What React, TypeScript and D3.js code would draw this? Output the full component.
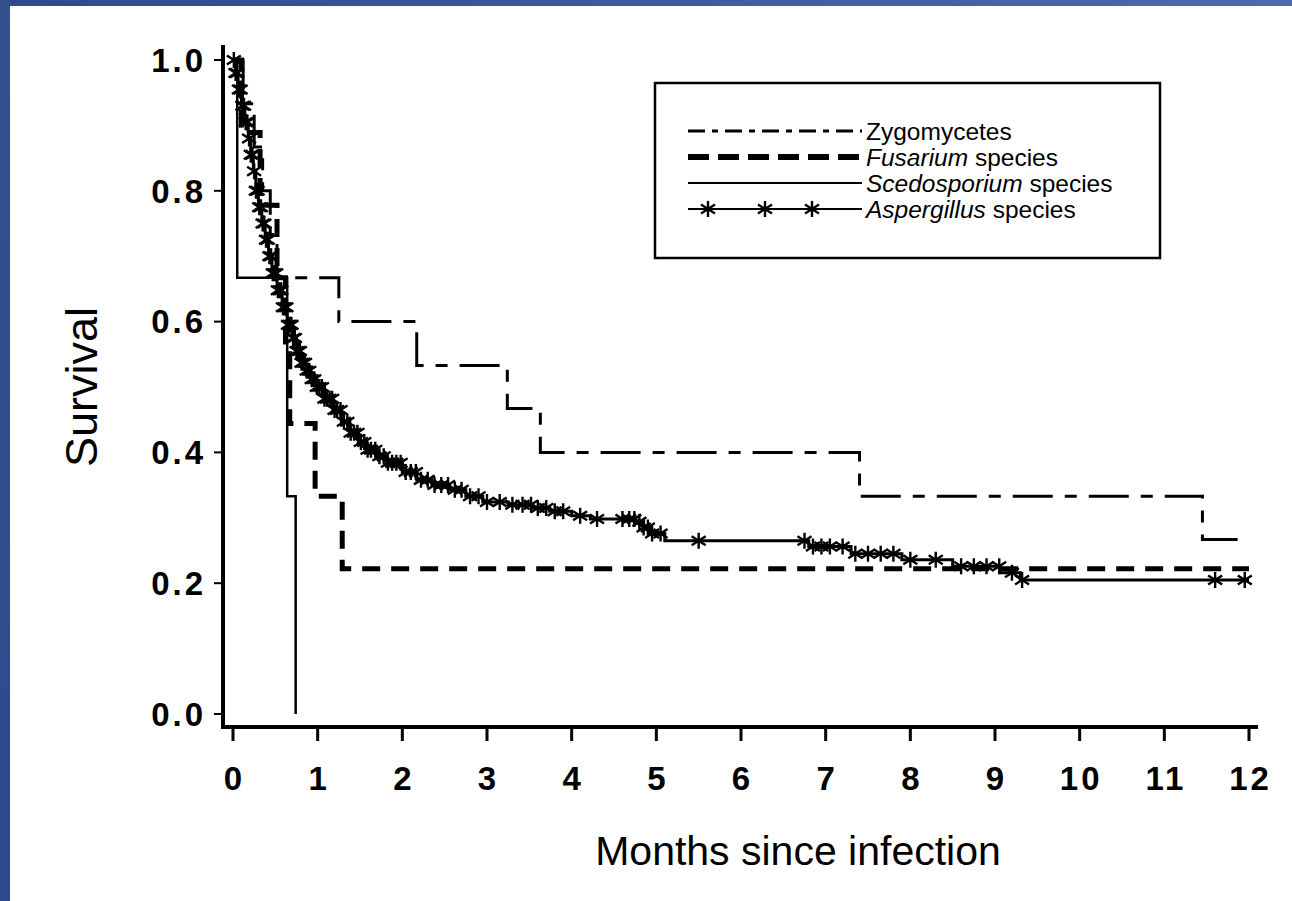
import * as d3 from 'd3'

// survival curves (months, survival)
const zygoTimes = [0, 0.12, 0.25, 0.35, 0.44, 0.52, 1.25, 2.17, 3.24, 3.63, 7.4, 11.45, 12]
const zygoSurv = [1, 0.933, 0.867, 0.8, 0.733, 0.667, 0.6, 0.533, 0.467, 0.4, 0.333, 0.267, 0.267]

const fusTimes = [0, 0.1, 0.32, 0.52, 0.62, 0.67, 0.97, 1.29, 12]
const fusSurv = [1, 0.889, 0.778, 0.667, 0.556, 0.444, 0.333, 0.222, 0.222]

const scedTimes = [0, 0.05, 0.64, 0.74]
const scedSurv = [1, 0.667, 0.333, 0]

const aspTimes = [0, 0.03, 0.06, 0.1, 0.14, 0.18, 0.21, 0.24, 0.27, 0.3, 0.34, 0.38, 0.42, 0.46, 0.52, 0.58,
  0.64, 0.7, 0.75, 0.8, 0.86, 0.92, 0.99, 1.08, 1.18, 1.28, 1.38, 1.48, 1.58, 1.7, 1.82, 2.0, 2.17, 2.35,
  2.56, 2.75, 2.95, 3.25, 3.54, 3.74, 4.0, 4.22, 4.75, 4.85, 4.93, 5.1, 6.8, 7.3, 7.9, 8.5, 9.06, 9.3, 12]
const aspSurv = [1, 0.98, 0.955, 0.93, 0.905, 0.88, 0.855, 0.83, 0.8, 0.775, 0.75, 0.725, 0.7, 0.674, 0.648, 0.622,
  0.595, 0.575, 0.555, 0.537, 0.525, 0.512, 0.5, 0.482, 0.465, 0.447, 0.43, 0.416, 0.404, 0.394, 0.384, 0.37, 0.358, 0.35,
  0.343, 0.333, 0.324, 0.32, 0.315, 0.31, 0.303, 0.298, 0.294, 0.285, 0.276, 0.265, 0.256, 0.245, 0.236, 0.226, 0.216, 0.205, 0.205]

// censored observations (stars) for Aspergillus
const aspCensored = [0.01, 0.03, 0.05, 0.07, 0.09, 0.11, 0.13, 0.15, 0.17, 0.19, 0.21, 0.23, 0.25, 0.27, 0.29,
  0.31, 0.33, 0.35, 0.37, 0.39, 0.41, 0.43, 0.45, 0.47, 0.49, 0.51, 0.53, 0.55, 0.57, 0.59, 0.61, 0.63, 0.65,
  0.67, 0.69, 0.71, 0.73, 0.75, 0.77, 0.79, 0.81, 0.83, 0.85, 0.87, 0.9, 0.93, 0.96, 0.99, 1.02, 1.05, 1.08,
  1.11, 1.14, 1.17, 1.2, 1.23, 1.27, 1.31, 1.35, 1.39, 1.43, 1.47, 1.51, 1.55, 1.59, 1.63, 1.68, 1.73, 1.78,
  1.83, 1.88, 1.93, 1.98, 2.04, 2.1, 2.16, 2.22, 2.3, 2.38, 2.46, 2.54, 2.62, 2.7, 2.8, 2.9, 3.0, 3.15, 3.3,
  3.42, 3.52, 3.6, 3.7, 3.8, 3.9, 4.1, 4.3, 4.6, 4.68, 4.74, 4.8, 4.85, 4.9, 4.95, 5.05, 5.5, 6.75, 6.85, 6.95,
  7.05, 7.2, 7.35, 7.5, 7.65, 7.8, 8.0, 8.3, 8.6, 8.75, 8.9, 9.05, 9.2, 9.32, 11.6, 11.95]

const xTicks = [0, 1, 2, 3, 4, 5, 6, 7, 8, 9, 10, 11, 12]
const yTicks = [0, 0.2, 0.4, 0.6, 0.8, 1.0]

const legendNames = ['Zygomycetes', 'Fusarium', 'Scedosporium', 'Aspergillus']
const legendSuffix = ['', ' species', ' species', ' species']

const FONT = '"Liberation Sans", Arial, Helvetica, sans-serif'

const zygoDash = '40 12 12 12'
const fusDash = '18 11'

function Star({ cx, cy }: { cx: number; cy: number }) {
  return (
    <path
      d={`M${cx},${cy - 8}L${cx},${cy + 8}M${cx - 7},${cy - 4.5}L${cx + 7},${cy + 4.5}M${cx - 7},${cy + 4.5}L${cx + 7},${cy - 4.5}`}
      stroke="#000"
      strokeWidth={2.4}
      fill="none"
    />
  )
}

export default function App() {
  const width = 1292
  const height = 901

  const x = d3.scaleLinear().domain([0, 12]).range([233, 1249])
  const y = d3.scaleLinear().domain([0, 1]).range([714, 60])

  const stepLine = (times: number[], surv: number[]) =>
    d3.line<number>()
      .x((_, i) => x(times[i]))
      .y((d) => y(d))
      .curve(d3.curveStepAfter)(surv) || ''

  const survAt = (t: number) => {
    const i = Math.max(0, d3.bisectRight(aspTimes, t) - 1)
    return aspSurv[i]
  }

  const axisLeft = 223
  const axisBottom = 727
  const legendX = 688
  const legendLen = 174
  const legendRows = [131, 157, 183, 209]

  return (
    <svg width={width} height={height} style={{ position: 'absolute', left: 0, top: 0 }} fontFamily={FONT}>
      <defs>
        <linearGradient id="topBar" x1="0" x2="1" y1="0" y2="0">
          <stop offset="0" stopColor="#2f4a8a" />
          <stop offset="1" stopColor="#4d6bab" />
        </linearGradient>
        <linearGradient id="leftBar" x1="0" x2="0" y1="0" y2="1">
          <stop offset="0" stopColor="#35508f" />
          <stop offset="1" stopColor="#2f4a8c" />
        </linearGradient>
      </defs>
      <rect x={0} y={0} width={width} height={height} fill="#fff" />
      <rect x={0} y={0} width={width} height={6} fill="url(#topBar)" />
      <rect x={0} y={0} width={10} height={height} fill="url(#leftBar)" />

      {/* axes */}
      <line x1={axisLeft} x2={axisLeft} y1={45} y2={axisBottom} stroke="#000" strokeWidth={4} />
      <line x1={axisLeft - 2} x2={1258} y1={axisBottom} y2={axisBottom} stroke="#000" strokeWidth={4} />
      {yTicks.map((t) => (
        <g key={'y' + t}>
          <line x1={axisLeft - 9} x2={axisLeft} y1={y(t)} y2={y(t)} stroke="#000" strokeWidth={2} />
          <text x={206} y={y(t)} dy="0.36em" textAnchor="end" fontSize={33} fontWeight="bold" letterSpacing={3}>
            {t.toFixed(1)}
          </text>
        </g>
      ))}
      {xTicks.map((t) => (
        <g key={'x' + t}>
          <line x1={x(t)} x2={x(t)} y1={axisBottom} y2={axisBottom + 14} stroke="#000" strokeWidth={3} />
          <text x={x(t) + 1.5} y={778} dy="0.36em" textAnchor="middle" fontSize={33} fontWeight="bold" letterSpacing={3}>
            {t}
          </text>
        </g>
      ))}

      <text x={798} y={865} textAnchor="middle" fontSize={41}>Months since infection</text>
      <text transform="translate(97,387) rotate(-90)" textAnchor="middle" fontSize={45}>Survival</text>

      {/* curves */}
      <path d={stepLine(zygoTimes, zygoSurv)} fill="none" stroke="#000" strokeWidth={3} strokeDasharray={zygoDash} />
      <path d={stepLine(fusTimes, fusSurv)} fill="none" stroke="#000" strokeWidth={5} strokeDasharray={fusDash} />
      <path d={stepLine(scedTimes, scedSurv)} fill="none" stroke="#000" strokeWidth={2.5} />
      <path d={stepLine(aspTimes, aspSurv)} fill="none" stroke="#000" strokeWidth={3} />
      {aspCensored.map((t, i) => (
        <Star key={i} cx={x(t)} cy={y(survAt(t))} />
      ))}

      {/* legend */}
      <rect x={655} y={83} width={505} height={175} fill="none" stroke="#000" strokeWidth={2.5} />
      <line x1={legendX} x2={legendX + legendLen} y1={legendRows[0]} y2={legendRows[0]} stroke="#000" strokeWidth={3} strokeDasharray="17 7 6 7" />
      <line x1={legendX} x2={legendX + legendLen} y1={legendRows[1]} y2={legendRows[1]} stroke="#000" strokeWidth={6} strokeDasharray="21 9" />
      <line x1={legendX} x2={legendX + legendLen} y1={legendRows[2]} y2={legendRows[2]} stroke="#000" strokeWidth={2} />
      <line x1={legendX} x2={legendX + legendLen} y1={legendRows[3]} y2={legendRows[3]} stroke="#000" strokeWidth={2} />
      {[20, 77, 124].map((dx) => (
        <Star key={dx} cx={legendX + dx} cy={legendRows[3]} />
      ))}
      {legendNames.map((name, i) => (
        <text key={name} x={866} y={legendRows[i]} dy="0.35em" fontSize={24.5}>
          <tspan fontStyle={i === 0 ? 'normal' : 'italic'}>{name}</tspan>
          {legendSuffix[i]}
        </text>
      ))}
    </svg>
  )
}
